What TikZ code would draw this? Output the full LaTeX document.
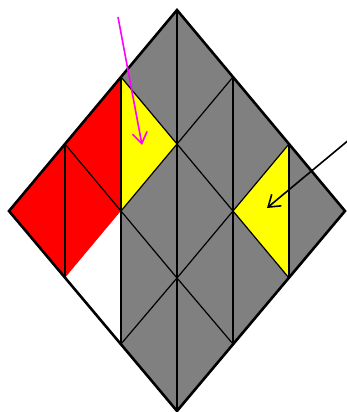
\documentclass[tikz,border=0pt]{standalone}
\usetikzlibrary{arrows.meta}
\definecolor{cgray}{RGB}{128,128,128}
\definecolor{cred}{RGB}{255,0,0}
\definecolor{cyel}{RGB}{255,255,0}
\definecolor{cmag}{RGB}{255,0,255}
\tikzset{
  thinline/.style={line width=1.2pt,black},
  midline/.style={line width=2pt,black},
  outline/.style={line width=2.6pt,black,line join=miter},
  pointer/.style={line width=1.6pt,-{Straight Barb[length=11pt,width=15pt]}},
}
\begin{document}
\begin{tikzpicture}[x=1pt,y=-1pt]
\useasboundingbox (0,0) rectangle (346,412);
% lattice points
\coordinate (T) at (177,10);
\coordinate (A) at (121,77);
\coordinate (B) at (233,77);
\coordinate (C) at (65,144);
\coordinate (D) at (177,144);
\coordinate (E) at (289,144);
\coordinate (L) at (9,211);
\coordinate (F) at (121,211);
\coordinate (G) at (233,211);
\coordinate (R) at (345,211);
\coordinate (H) at (65,278);
\coordinate (I) at (177,278);
\coordinate (J) at (289,278);
\coordinate (K) at (121,344);
\coordinate (M) at (233,344);
\coordinate (Bt) at (177,411);
% fills
\fill[cgray] (T) -- (R) -- (Bt) -- (L) -- cycle;
\fill[cred] (L) -- (A) -- (F) -- (H) -- cycle;
\fill[white] (H) -- (F) -- (K) -- cycle;
\fill[cyel] (A) -- (D) -- (F) -- cycle;
\fill[cyel] (E) -- (G) -- (J) -- cycle;
% inner lines
\draw[thinline] (C) -- (H);
\draw[thinline] (A) -- (K);
\draw[thinline] (B) -- (M);
\draw[thinline] (E) -- (J);
\draw[thinline] (A) -- (D) -- (G) -- (J);
\draw[thinline] (C) -- (F) -- (I) -- (M);
\draw[thinline] (F) -- (D) -- (B);
\draw[thinline] (K) -- (I) -- (G) -- (E);
\draw[midline] (T) -- (Bt);
% outline
\draw[outline] (T) -- (R) -- (Bt) -- (L) -- cycle;
% arrows
\coordinate (m0) at (118,17);
\coordinate (m1) at (142,145);
\draw[pointer,cmag] (m0) -- (m1);
\coordinate (k0) at (350,139);
\coordinate (k1) at (267,208);
\draw[pointer,black] (k0) -- (k1);
\end{tikzpicture}
\end{document}
